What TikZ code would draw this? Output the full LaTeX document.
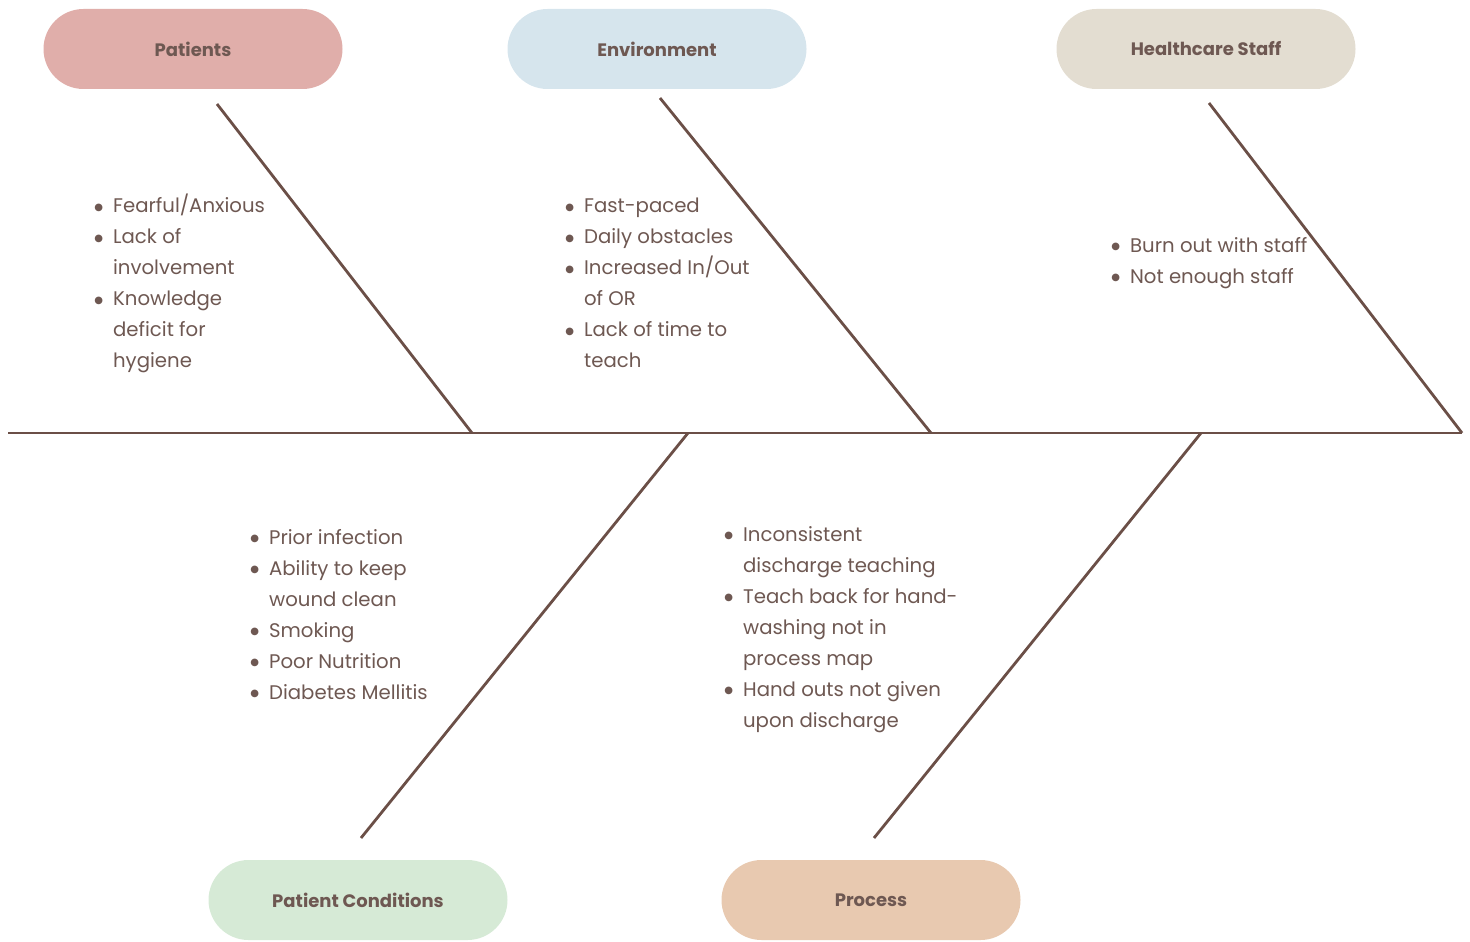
\documentclass[tikz,border=0pt]{standalone}
\usepackage{fontspec}
\setmainfont{Poppins}
\newfontfamily\bulfont{DejaVu Sans}
\newcommand{\bul}{\raisebox{1.3pt}{\bulfont\fontsize{5}{5}\selectfont ●}}
\definecolor{txt}{HTML}{6E5852}
\definecolor{ln}{HTML}{6B4F47}
\definecolor{cPat}{HTML}{E0AEAA}
\definecolor{cEnv}{HTML}{D6E5ED}
\definecolor{cHS}{HTML}{E3DDD1}
\definecolor{cCond}{HTML}{D6EAD6}
\definecolor{cProc}{HTML}{E8C9B0}
\begin{document}
\begin{tikzpicture}[x=0.5pt,y=-0.5pt,
  pill/.style={rounded corners=20pt,minimum width=149.5pt,minimum height=40pt,inner sep=0pt,
    font=\fontsize{9}{11}\selectfont\bfseries,text=txt},
  bone/.style={draw=ln,line width=1.4pt},
  blist/.style={anchor=base west,inner sep=0pt,text=txt,font=\fontsize{9.85}{15.5}\selectfont}]
\useasboundingbox (0,0) rectangle (1470,941);
% heads
\node[pill,fill=cPat] (pat) at (193,49) {Patients};
\node[pill,fill=cEnv] (env) at (657,49) {Environment};
\node[pill,fill=cHS] (hs) at (1206,49) {Healthcare Staff};
\node[pill,fill=cCond] (cond) at (358,900) {Patient Conditions};
\node[pill,fill=cProc] (proc) at (871,900) {Process};
% skeleton coordinates
\coordinate (s0) at (8,433);
\coordinate (s1) at (1462,433);
\coordinate (a0) at (217,104); \coordinate (a1) at (472,433);
\coordinate (b0) at (660,98);  \coordinate (b1) at (931,433);
\coordinate (c0) at (1209,103);
\coordinate (d0) at (688,433); \coordinate (d1) at (361,838);
\coordinate (e0) at (1201,433); \coordinate (e1) at (874,838);
\draw[bone] (s0) -- (s1);
\draw[bone] (a0) -- (a1);
\draw[bone] (b0) -- (b1);
\draw[bone] (c0) -- (s1);
\draw[bone] (d0) -- (d1);
\draw[bone] (e0) -- (e1);
% lists
\node[blist] (lpat) at (94,213) {\begin{tabular}[t]{@{}l@{\hspace{5pt}}l@{}}
\bul&Fearful/Anxious\\ \bul&Lack of\\ &involvement\\ \bul&Knowledge\\ &deficit for\\ &hygiene\end{tabular}};
\node[blist] (lenv) at (565,213) {\begin{tabular}[t]{@{}l@{\hspace{5pt}}l@{}}
\bul&Fast-paced\\ \bul&Daily obstacles\\ \bul&Increased In/Out\\ &of OR\\ \bul&Lack of time to\\ &teach\end{tabular}};
\node[blist] (lhs) at (1111,252) {\begin{tabular}[t]{@{}l@{\hspace{5pt}}l@{}}
\bul&Burn out with staff\\ \bul&Not enough staff\end{tabular}};
\node[blist] (lcond) at (250,544) {\begin{tabular}[t]{@{}l@{\hspace{5pt}}l@{}}
\bul&Prior infection\\ \bul&Ability to keep\\ &wound clean\\ \bul&Smoking\\ \bul&Poor Nutrition\\ \bul&Diabetes Mellitis\end{tabular}};
\node[blist] (lproc) at (724,541) {\begin{tabular}[t]{@{}l@{\hspace{5pt}}l@{}}
\bul&Inconsistent\\ &discharge teaching\\ \bul&Teach back for hand-\\ &washing not in\\ &process map\\ \bul&Hand outs not given\\ &upon discharge\end{tabular}};
\end{tikzpicture}
\end{document}
